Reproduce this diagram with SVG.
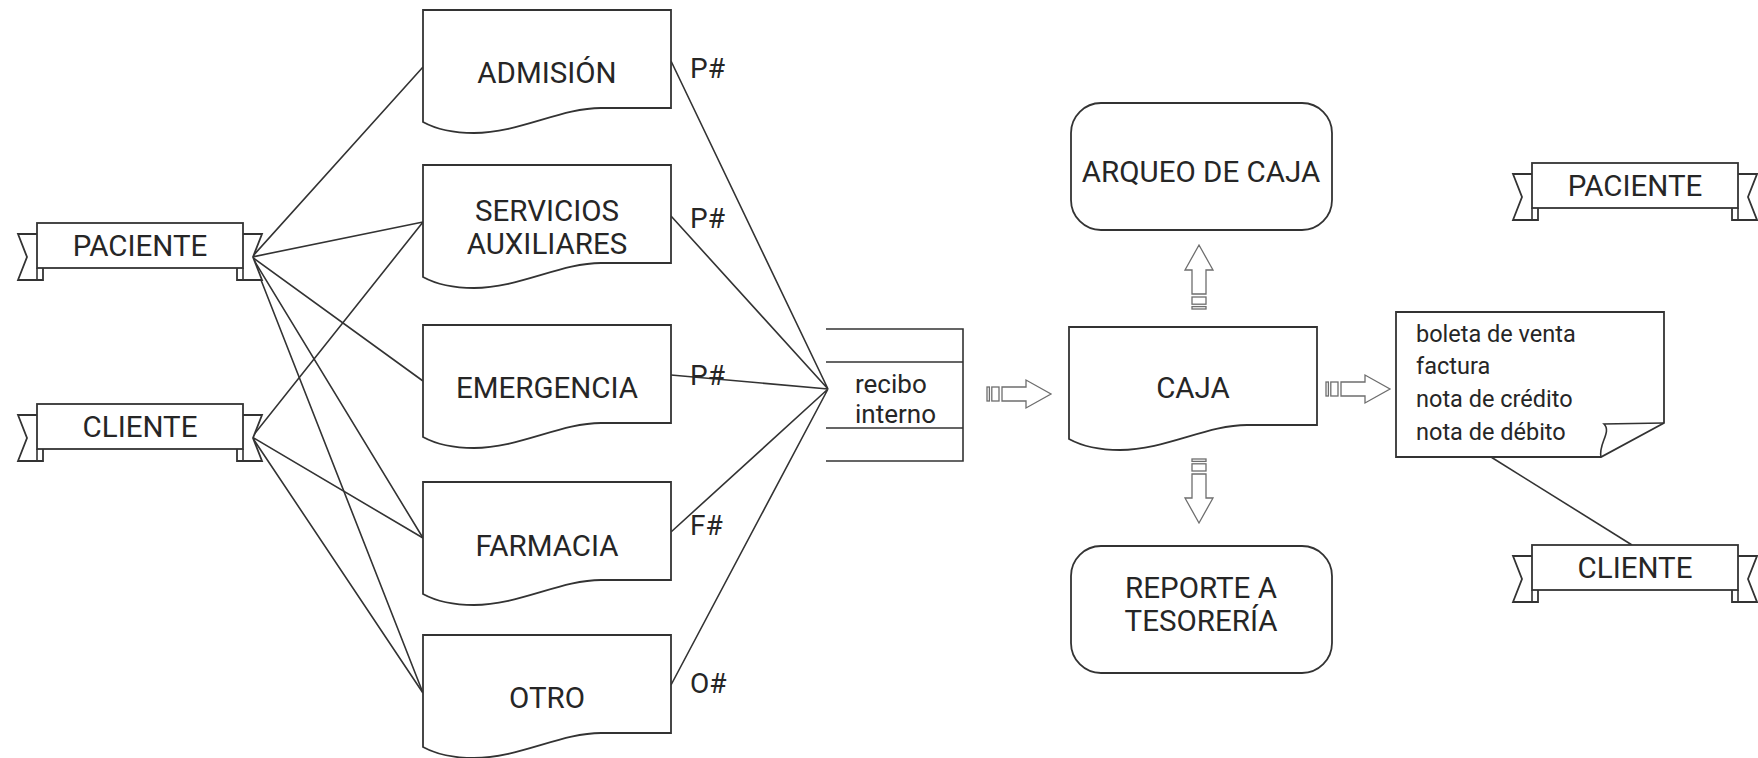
<svg xmlns="http://www.w3.org/2000/svg" xmlns:xlink="http://www.w3.org/1999/xlink" width="1758" height="758" viewBox="0 0 1758 758">
  <style>
    .shape { fill: #ffffff; stroke: #333333; stroke-width: 1.8; }
    .line { fill: none; stroke: #333333; stroke-width: 1.6; }
    .flow { fill: #ffffff; stroke: #6e6e6e; stroke-width: 1.3; }
    .lbl { font-family: Roboto, "Liberation Sans", sans-serif; font-size: 29.5px; fill: #262626; text-anchor: middle; }
    .tag { font-family: Roboto, "Liberation Sans", sans-serif; font-size: 28px; fill: #262626; }
    .rec { font-family: Roboto, "Liberation Sans", sans-serif; font-size: 26px; fill: #262626; }
    .note { font-family: Roboto, "Liberation Sans", sans-serif; font-size: 23.5px; fill: #262626; }
  </style>
  <defs>
    <!-- document shape: flat right side, wavy bottom -->
    <path id="doc" d="M0,0 h248 v98 h-70 c-40,0 -82,25 -127,25 c-25,0 -40,-5 -51,-11 z"/>
    <!-- banner with folded tails, rect 206x45 -->
    <g id="ribbon">
      <path class="shape" d="M0,11 H-19 L-10,34 L-19,57 H6 V45"/>
      <path class="shape" d="M206,11 H225 L216,34 L225,57 H200 V45"/>
      <rect class="shape" x="0" y="0" width="206" height="45"/>
      <path class="line" d="M0,45 V56 M206,45 V56"/>
    </g>
    <!-- striped block arrow, pointing right, origin at tail centre -->
    <g id="sarrow">
      <path class="flow" d="M15,-7 H39 V-14 L64,0 L39,14 V7 H15 Z"/>
      <rect class="flow" x="0" y="-7" width="2.4" height="14"/>
      <rect class="flow" x="4.8" y="-7" width="7.2" height="14"/>
    </g>
  </defs>

  <!-- connectors -->
  <g id="connectors">
    <path class="line" d="M252,257 L423,67 M252,257 L423,222 M252,257 L423,381 M252,257 L423,538 M252,257 L423,693"/>
    <path class="line" d="M252,437 L423,222 M252,437 L423,538 M252,437 L423,693"/>
    <path class="line" d="M671,61 L828,389 M671,216 L828,389 M671,375 L828,389 M671,532 L828,389 M671,685 L828,389"/>
    <path class="line" d="M1491,457 L1632,545"/>
    <use href="#sarrow" transform="translate(987,394)"/>
    <use href="#sarrow" transform="translate(1326,389)"/>
    <use href="#sarrow" transform="translate(1199,309) rotate(-90)"/>
    <use href="#sarrow" transform="translate(1199,459) rotate(90)"/>
    <text class="tag" x="690" y="78">P#</text>
    <text class="tag" x="690" y="228">P#</text>
    <text class="tag" x="690" y="385">P#</text>
    <text class="tag" x="690" y="535">F#</text>
    <text class="tag" x="690" y="693">O#</text>
  </g>

  <!-- sources -->
  <g id="paciente-left">
    <use href="#ribbon" transform="translate(37,223)"/>
    <text class="lbl" x="140" y="256">PACIENTE</text>
  </g>
  <g id="cliente-left">
    <use href="#ribbon" transform="translate(37,404)"/>
    <text class="lbl" x="140" y="437">CLIENTE</text>
  </g>

  <!-- service areas -->
  <g id="admision">
    <use href="#doc" class="shape" x="423" y="10"/>
    <text class="lbl" x="547" y="83">ADMISIÓN</text>
  </g>
  <g id="servicios">
    <use href="#doc" class="shape" x="423" y="165"/>
    <text class="lbl" x="547" y="221">SERVICIOS</text>
    <text class="lbl" x="547" y="254">AUXILIARES</text>
  </g>
  <g id="emergencia">
    <use href="#doc" class="shape" x="423" y="325"/>
    <text class="lbl" x="547" y="398">EMERGENCIA</text>
  </g>
  <g id="farmacia">
    <use href="#doc" class="shape" x="423" y="482"/>
    <text class="lbl" x="547" y="556">FARMACIA</text>
  </g>
  <g id="otro">
    <use href="#doc" class="shape" x="423" y="635"/>
    <text class="lbl" x="547" y="708">OTRO</text>
  </g>

  <!-- internal receipt -->
  <g id="recibo">
    <path class="line" d="M826,329 H963 V461 H826 M826,362 H963 M826,428 H963"/>
    <text class="rec" x="855" y="393">recibo</text>
    <text class="rec" x="855" y="423">interno</text>
  </g>

  <!-- cash desk -->
  <g id="caja">
    <use href="#doc" class="shape" x="1069" y="327"/>
    <text class="lbl" x="1193" y="398">CAJA</text>
  </g>
  <g id="arqueo">
    <rect class="shape" x="1071" y="103" width="261" height="127" rx="30" ry="30"/>
    <text class="lbl" x="1201" y="182">ARQUEO DE CAJA</text>
  </g>
  <g id="reporte">
    <rect class="shape" x="1071" y="546" width="261" height="127" rx="30" ry="30"/>
    <text class="lbl" x="1201" y="598">REPORTE A</text>
    <text class="lbl" x="1201" y="631">TESORERÍA</text>
  </g>

  <!-- issued documents -->
  <g id="comprobantes">
    <path class="shape" d="M1396,312 H1664 V423 L1601,457 H1396 Z"/>
    <path class="line" d="M1664,423 L1604,424 C1612,432 1598,444 1601,457"/>
    <text class="note" x="1416" y="342">boleta de venta</text>
    <text class="note" x="1416" y="374">factura</text>
    <text class="note" x="1416" y="407">nota de crédito</text>
    <text class="note" x="1416" y="440">nota de débito</text>
  </g>

  <!-- destinations -->
  <g id="paciente-right">
    <use href="#ribbon" transform="translate(1532,163)"/>
    <text class="lbl" x="1635" y="196">PACIENTE</text>
  </g>
  <g id="cliente-right">
    <use href="#ribbon" transform="translate(1532,545)"/>
    <text class="lbl" x="1635" y="578">CLIENTE</text>
  </g>
</svg>
